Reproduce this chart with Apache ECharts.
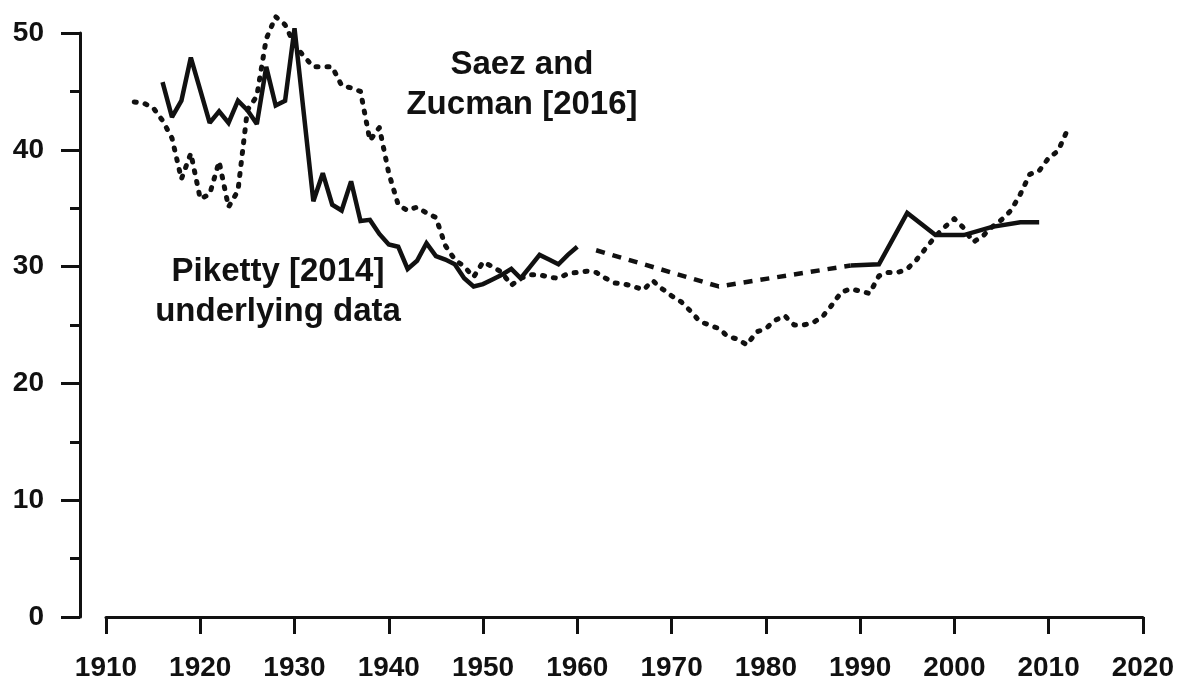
<!DOCTYPE html>
<html>
<head>
<meta charset="utf-8">
<title>Top 10% wealth share</title>
<script src="https://cdn.jsdelivr.net/npm/echarts@6/dist/echarts.min.js"></script>
<style>
  html, body { margin: 0; padding: 0; background: #fff; }
  #chart { width: 1177px; height: 682px; }
</style>
</head>
<body>
<div id="chart"></div>
<script>
// x ticks / y ticks
var xTicks = [1910, 1920, 1930, 1940, 1950, 1960, 1970, 1980, 1990, 2000, 2010, 2020];
var yTicks = [0, 10, 20, 30, 40, 50];

// Piketty [2014] underlying data, annual 1916-1960
var pikettyEarlyStart = 1916;
var pikettyEarly = [
  45.8, 42.8, 44.2, 47.9, 45.1, 42.3, 43.3, 42.3, 44.2, 43.4,
  42.2, 47.1, 43.8, 44.2, 50.4, 43.0, 35.6, 38.0, 35.3, 34.8,
  37.3, 33.9, 34.0, 32.8, 31.9, 31.7, 29.8, 30.5, 32.0, 30.9,
  30.6, 30.2, 29.0, 28.3, 28.5, 28.9, 29.3, 29.8, 29.0, 30.0,
  31.0, 30.6, 30.2, 31.0, 31.7
];
// interpolated (dashed) stretch
var pikettyGapYears = [1962, 1975, 1989];
var pikettyGap = [31.4, 28.3, 30.1];
// later points
var pikettyLateYears = [1989, 1992, 1995, 1998, 2001, 2004, 2007, 2009];
var pikettyLate = [30.1, 30.2, 34.6, 32.7, 32.7, 33.4, 33.8, 33.8];

// Saez and Zucman [2016], annual 1913-2012
var saezStart = 1913;
var saez = [
  44.1, 44.0, 43.6, 42.5, 41.0, 37.5, 39.7, 35.8, 36.2, 39.0,
  35.1, 36.5, 43.4, 44.6, 49.5, 51.4, 50.7, 49.0, 48.0, 47.1,
  47.1, 47.1, 45.5, 45.3, 45.0, 40.8, 41.9, 38.0, 35.3, 34.8,
  35.1, 34.6, 34.2, 31.8, 30.6, 30.0, 29.1, 30.4, 30.0, 29.5,
  28.4, 29.0, 29.3, 29.3, 29.1, 29.0, 29.4, 29.5, 29.6, 29.5,
  29.0, 28.6, 28.5, 28.3, 28.0, 28.8, 28.1, 27.5, 27.0, 26.2,
  25.3, 25.0, 24.7, 24.0, 23.8, 23.3, 24.4, 24.7, 25.4, 25.8,
  25.0, 25.0, 25.2, 25.7, 26.7, 27.8, 28.1, 27.9, 27.7, 29.2,
  29.5, 29.5, 29.8, 30.6, 31.6, 32.6, 33.4, 34.1, 33.3, 32.1,
  32.6, 33.4, 34.0, 34.8, 36.2, 37.9, 38.2, 39.3, 39.9, 41.7
];

function annual(start, vals) {
  return vals.map(function (v, i) { return [start + i, v]; });
}
function paired(xs, vals) {
  return vals.map(function (v, i) { return [xs[i], v]; });
}

var font = "'Liberation Sans', Arial, sans-serif";
var ink = "#111";

var chart = echarts.init(document.getElementById("chart"));
chart.setOption({
  animation: false,
  backgroundColor: "#fff",
  grid: { left: 106, right: 34, top: 33, bottom: 65 },
  xAxis: {
    type: "value",
    min: xTicks[0],
    max: xTicks[xTicks.length - 1],
    interval: 10,
    axisLine: { show: true, onZero: false, lineStyle: { color: ink, width: 3 } },
    axisTick: { show: true, length: 17, lineStyle: { color: ink, width: 3 } },
    axisLabel: {
      color: ink, fontFamily: font, fontWeight: "bold", fontSize: 28, margin: 37,
      formatter: function (v) { return String(v); }
    },
    splitLine: { show: false }
  },
  yAxis: {
    type: "value",
    min: yTicks[0],
    max: yTicks[yTicks.length - 1],
    interval: 10,
    offset: 26,
    axisLine: { show: true, lineStyle: { color: ink, width: 3 } },
    axisTick: { show: true, length: 19, lineStyle: { color: ink, width: 3 } },
    minorTick: { show: true, splitNumber: 2, length: 10, lineStyle: { color: ink, width: 3 } },
    axisLabel: { color: ink, fontFamily: font, fontWeight: "bold", fontSize: 28, margin: 36 },
    splitLine: { show: false }
  },
  series: [
    {
      name: "Saez and Zucman [2016]",
      type: "line",
      data: annual(saezStart, saez),
      showSymbol: false,
      clip: false,
      lineStyle: { color: ink, width: 5, type: [2, 9], cap: "round", join: "round" }
    },
    {
      name: "Piketty [2014]",
      type: "line",
      data: annual(pikettyEarlyStart, pikettyEarly),
      showSymbol: false,
      clip: false,
      lineStyle: { color: ink, width: 4.5, join: "miter", miterLimit: 2 }
    },
    {
      name: "Piketty [2014] interpolated",
      type: "line",
      data: paired(pikettyGapYears, pikettyGap),
      showSymbol: false,
      lineStyle: { color: ink, width: 4.5, type: [9, 8] }
    },
    {
      name: "Piketty [2014] later",
      type: "line",
      data: paired(pikettyLateYears, pikettyLate),
      showSymbol: false,
      lineStyle: { color: ink, width: 4.5, join: "miter", miterLimit: 2 }
    }
  ],
  graphic: [
    {
      type: "text",
      x: 522,
      y: 85,
      style: {
        text: "Saez and\nZucman [2016]",
        font: "bold 33px " + font,
        fill: ink,
        align: "center",
        verticalAlign: "middle",
        lineHeight: 40
      }
    },
    {
      type: "text",
      x: 278,
      y: 292,
      style: {
        text: "Piketty [2014]\nunderlying data",
        font: "bold 33px " + font,
        fill: ink,
        align: "center",
        verticalAlign: "middle",
        lineHeight: 40
      }
    }
  ]
});
</script>
</body>
</html>
